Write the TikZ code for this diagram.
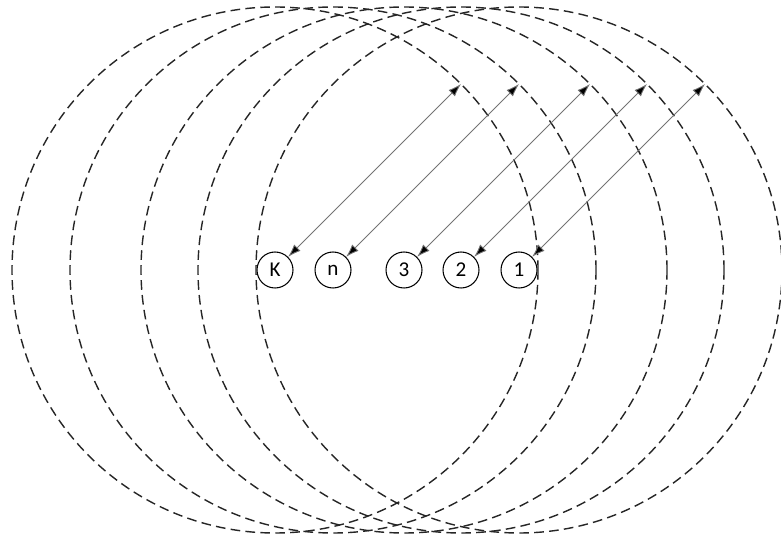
\documentclass[tikz,border=0pt]{standalone}
\usepackage{fontspec}
\setmainfont{Carlito}
\usetikzlibrary{arrows.meta, positioning, calc}

\begin{document}
\begin{tikzpicture}[
    font=\fontsize{12}{14}\selectfont,
    % small numbered stations and the big dashed ranges
    stn/.style={circle, draw=black, line width=0.6pt, minimum size=0.72cm, inner sep=0pt},
    ring/.style={draw=black!85, line width=0.8pt, dash pattern=on 5.5pt off 3pt},
    % radius arrows, thin grey line with dark tips
    arr/.style={draw=black!55, line width=0.5pt, {Latex[length=2.6mm,width=1.8mm,fill=black]}-{Latex[length=2.6mm,width=1.8mm,fill=black]}}
]
\useasboundingbox (0,0) rectangle (15.62,10.8);

% ===============================
% Stations
% ===============================
\node[stn] (nK) at (5.50, 5.4) {K};
\node[stn] (nn) at (6.66, 5.4) {n};
\node[stn] (n3) at (8.08, 5.4) {3};
\node[stn] (n2) at (9.22, 5.4) {2};
\node[stn] (n1) at (10.38, 5.4) {1};

% ===============================
% Ranges
% ===============================
\draw[ring] (nK.center) circle (5.26);
\draw[ring] (nn.center) circle (5.26);
\draw[ring] (n3.center) circle (5.26);
\draw[ring] (n2.center) circle (5.26);
\draw[ring] (n1.center) circle (5.26);

% Radius end points
\coordinate (tK) at ($(nK.center)+(45:5.26)$);
\coordinate (tn) at ($(nn.center)+(45:5.26)$);
\coordinate (t3) at ($(n3.center)+(45:5.26)$);
\coordinate (t2) at ($(n2.center)+(45:5.26)$);
\coordinate (t1) at ($(n1.center)+(45:5.26)$);

% Radius arrows
\draw[arr] (tK) -- (nK);
\draw[arr] (tn) -- (nn);
\draw[arr] (t3) -- (n3);
\draw[arr] (t2) -- (n2);
\draw[arr] (t1) -- (n1);

\end{tikzpicture}
\end{document}
